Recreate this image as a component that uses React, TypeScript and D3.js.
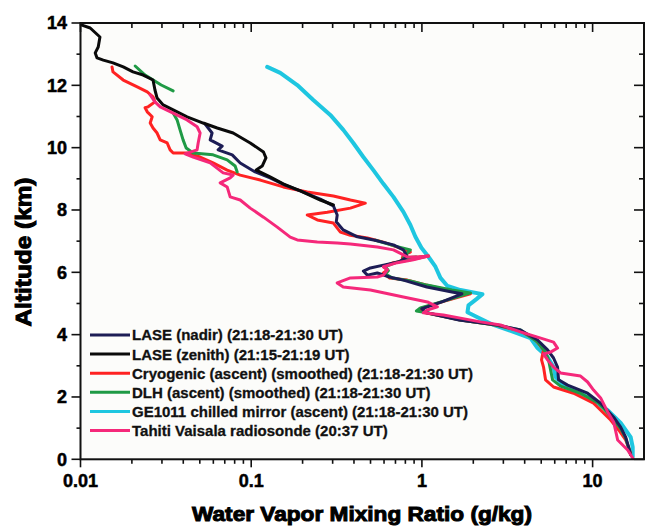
import React from "react";
import * as d3 from "d3";

// Water vapor profiles: [mixing ratio (g/kg), altitude (km)]
const laseZenith: [number, number][] = [
  [0.0101, 13.94], [0.0114, 13.84], [0.013, 13.55], [0.0127, 13.23], [0.0122, 13.04],
  [0.0125, 12.88], [0.0136, 12.81], [0.0155, 12.72], [0.0178, 12.59], [0.0203, 12.43],
  [0.0233, 12.33], [0.0266, 12.17], [0.0273, 11.85], [0.0281, 11.59], [0.0305, 11.37],
  [0.0349, 11.21], [0.0421, 10.99], [0.0523, 10.79], [0.0632, 10.63], [0.0784, 10.47],
  [0.0987, 10.15], [0.118, 9.86], [0.122, 9.67], [0.116, 9.41], [0.107, 9.28],
  [0.129, 9.06], [0.154, 8.84], [0.194, 8.61], [0.254, 8.32], [0.303, 8.16],
];

const laseNadir: [number, number][] = [
  [0.0537, 10.76], [0.059, 10.47], [0.0575, 10.25], [0.0676, 10.05], [0.064, 9.93],
  [0.0774, 9.77], [0.0862, 9.51], [0.1055, 9.22], [0.129, 9.03], [0.158, 8.8],
  [0.194, 8.61], [0.254, 8.35], [0.303, 8.13], [0.319, 7.84], [0.315, 7.62],
  [0.346, 7.36], [0.419, 7.14], [0.548, 7.01], [0.681, 6.88], [0.779, 6.72],
  [0.822, 6.49], [0.728, 6.33], [0.595, 6.23], [0.499, 6.14], [0.454, 6.04],
  [0.479, 5.91], [0.548, 5.98], [0.645, 5.85], [0.779, 5.75], [1.069, 5.53],
  [1.499, 5.37], [1.716, 5.31], [1.309, 5.05], [0.999, 4.83], [1.069, 4.7],
  [1.648, 4.47], [2.772, 4.31], [3.781, 4.15], [4.757, 3.83], [5.445, 3.51],
  [5.905, 3.25], [6.232, 2.96], [6.317, 2.55], [7.134, 2.38], [9.346, 2.12],
  [11.14, 1.8], [13.28, 1.35], [14.6, 1.03], [15.62, 0.71], [16.26, 0.39], [16.71, 0.14],
];

const cryogenic: [number, number][] = [
  [0.0153, 12.59], [0.0155, 12.43], [0.0178, 12.17], [0.0215, 11.95], [0.0246, 11.79],
  [0.0266, 11.63], [0.0273, 11.47], [0.0249, 11.31], [0.0239, 11.28], [0.0246, 11.15],
  [0.0263, 10.99], [0.0256, 10.79], [0.0266, 10.63], [0.0281, 10.47], [0.0293, 10.25],
  [0.0322, 10.15], [0.0335, 9.93], [0.0349, 9.83], [0.0421, 9.83], [0.0502, 9.7],
  [0.0598, 9.51], [0.0723, 9.28], [0.0862, 9.12], [0.113, 8.96], [0.154, 8.74],
  [0.213, 8.58], [0.303, 8.45], [0.381, 8.32], [0.466, 8.22], [0.381, 8.06],
  [0.279, 7.93], [0.213, 7.84], [0.244, 7.68], [0.303, 7.58], [0.333, 7.29],
  [0.381, 7.19], [0.479, 7.1], [0.595, 6.97], [0.718, 6.81], [0.856, 6.65],
  [0.779, 6.56], [0.768, 6.46], [0.954, 6.49], [1.092, 6.52], [0.856, 6.4],
  [0.681, 6.31], [0.595, 6.18], [0.628, 6.08], [0.595, 5.98], [0.645, 5.82],
  [0.822, 5.75], [1.069, 5.59], [1.499, 5.4], [1.925, 5.31], [1.309, 5.05],
  [0.973, 4.83], [1.048, 4.7], [1.682, 4.47], [2.698, 4.31], [3.781, 4.12],
  [4.631, 3.83], [5.158, 3.51], [5.021, 3.19], [5.158, 2.96], [5.3, 2.55],
  [5.905, 2.32], [7.735, 2.12], [10.13, 1.8], [12.75, 1.26], [14.21, 0.94],
  [15.62, 0.62], [16.71, 0.2],
];

const dlhUpper: [number, number][] = [
  [0.0209, 12.62], [0.0239, 12.33], [0.0297, 12.01], [0.0349, 11.82],
];

const dlhMiddle: [number, number][] = [
  [0.0349, 11.11], [0.0368, 10.89], [0.0383, 10.57], [0.0399, 10.25], [0.0416, 9.99],
  [0.0457, 9.83], [0.0598, 9.77], [0.0723, 9.61], [0.0805, 9.41], [0.0828, 9.22],
];

const dlhLower: [number, number][] = [
  [0.534, 7.03], [0.699, 6.84], [0.856, 6.72], [0.8, 6.56], [0.779, 6.46],
  [0.929, 6.49], [0.699, 6.31], [0.611, 6.18], [0.636, 6.05], [0.611, 5.95],
  [0.671, 5.82], [0.856, 5.72], [1.069, 5.59], [1.499, 5.43], [1.925, 5.34],
  [1.373, 5.09], [0.98, 4.86], [0.929, 4.76], [1.069, 4.7], [1.682, 4.47],
  [2.698, 4.31], [3.781, 4.15], [4.757, 3.76], [5.3, 3.44], [5.52, 3.19],
  [5.672, 2.87], [5.829, 2.55], [6.49, 2.35], [8.5, 2.12], [10.85, 1.8],
  [13.1, 1.31], [14.6, 0.99], [15.62, 0.68], [16.26, 0.36], [16.71, 0.14],
];

const chilledMirror: [number, number][] = [
  [0.1241, 12.59], [0.148, 12.4], [0.1861, 12.01], [0.231, 11.53], [0.2906, 11.05],
  [0.3464, 10.57], [0.3964, 10.15], [0.4539, 9.7], [0.5195, 9.28], [0.5946, 8.84],
  [0.681, 8.42], [0.779, 7.94], [0.856, 7.52], [0.916, 7.14], [0.993, 6.79],
  [1.092, 6.5], [1.2, 6.18], [1.284, 5.82], [1.411, 5.56], [1.682, 5.43],
  [2.263, 5.3], [2.087, 5.14], [1.874, 4.94], [1.849, 4.72], [2.116, 4.56],
  [2.627, 4.31], [3.441, 4.09], [4.328, 3.89], [4.757, 3.57], [5.445, 3.28],
  [5.905, 2.96], [6.067, 2.64], [6.76, 2.38], [9.346, 2.0], [12.25, 1.58],
  [14.6, 1.17], [16.71, 0.71], [17.17, 0.39], [17.17, 0.07],
];

const tahitiSonde: [number, number][] = [
  [0.0256, 11.69], [0.0273, 11.47], [0.0293, 11.31], [0.0349, 11.11], [0.0421, 10.89],
  [0.0482, 10.67], [0.0502, 10.47], [0.0489, 10.15], [0.0482, 9.93], [0.041, 9.8],
  [0.0457, 9.7], [0.0575, 9.51], [0.0685, 9.19], [0.0784, 9.12], [0.0753, 9.03],
  [0.0658, 8.87], [0.0723, 8.74], [0.0753, 8.42], [0.0862, 8.32], [0.0987, 8.06],
  [0.118, 7.77], [0.1421, 7.45], [0.1693, 7.13], [0.1861, 7.04], [0.2438, 6.97],
  [0.319, 6.94], [0.381, 6.91], [0.548, 6.81], [0.681, 6.72], [0.779, 6.56],
  [0.822, 6.49], [0.954, 6.49], [1.092, 6.52], [0.891, 6.4], [0.718, 6.31],
  [0.595, 6.18], [0.628, 6.08], [0.595, 5.91], [0.548, 5.85], [0.381, 5.82],
  [0.319, 5.66], [0.346, 5.53], [0.499, 5.43], [0.779, 5.21], [1.077, 5.05],
  [1.232, 4.89], [1.077, 4.79], [1.02, 4.7], [1.336, 4.63], [1.682, 4.53],
  [2.203, 4.41], [2.886, 4.31], [3.781, 4.09], [4.757, 3.92], [5.905, 3.76],
  [6.232, 3.57], [5.672, 3.44], [5.158, 3.38], [5.445, 3.19], [5.905, 2.96],
  [6.49, 2.77], [8.5, 2.67], [9.346, 2.48], [10.13, 2.22], [11.14, 1.97],
  [12.25, 1.52], [13.28, 1.2], [14.02, 0.62], [16.04, 0.3], [17.17, 0.04],
];

const legendLabels = [
  "LASE (nadir) (21:18-21:30 UT)",
  "LASE (zenith) (21:15-21:19 UT)",
  "Cryogenic (ascent) (smoothed) (21:18-21:30 UT)",
  "DLH (ascent) (smoothed) (21:18-21:30 UT)",
  "GE1011 chilled mirror (ascent) (21:18-21:30 UT)",
  "Tahiti Vaisala radiosonde (20:37 UT)",
];
const legendColors = ["#1d1d55", "#0a0a0a", "#ff2222", "#1f9a45", "#1ec6e0", "#f5287a"];

const xTickValues = [0.01, 0.1, 1, 10];
const xTickLabels = ["0.01", "0.1", "1", "10"];
const yTickValues = [0, 2, 4, 6, 8, 10, 12, 14];

const W = 647;
const H = 529;
const left = 80.5;
const right = 644;
const top = 23;
const bottom = 459.3;
const FONT = "'Liberation Sans', Arial, Helvetica, sans-serif";

export default function App() {
  const x = d3.scaleLog().domain([0.01, 20]).range([left, right]);
  const y = d3.scaleLinear().domain([0, 14]).range([bottom, top]);
  const line = d3
    .line<[number, number]>()
    .x((d) => x(d[0]))
    .y((d) => y(d[1]));

  const minorX = x.ticks().filter((v) => v > 0.01 && v < 20 && !xTickValues.includes(v));
  const allY = d3.range(0, 15);

  const series: { data: [number, number][]; color: string; width: number }[] = [
    { data: chilledMirror, color: legendColors[4], width: 4 },
    { data: cryogenic, color: legendColors[2], width: 3 },
    { data: dlhUpper, color: legendColors[3], width: 3 },
    { data: dlhMiddle, color: legendColors[3], width: 3 },
    { data: dlhLower, color: legendColors[3], width: 3 },
    { data: laseNadir, color: legendColors[0], width: 3 },
    { data: laseZenith, color: legendColors[1], width: 3 },
    { data: tahitiSonde, color: legendColors[5], width: 3 },
  ];

  return (
    <svg
      width={W}
      height={H}
      style={{ position: "absolute", left: 0, top: 0, background: "#fff" }}
      fontFamily={FONT}
    >
      <rect x={left} y={top} width={right - left} height={bottom - top} fill="#fcfcfa" />

      <g fill="none" strokeLinejoin="round" strokeLinecap="round">
        {series.map((s, i) => (
          <path key={i} d={line(s.data) || ""} stroke={s.color} strokeWidth={s.width} />
        ))}
      </g>

      {/* frame */}
      <rect
        x={left}
        y={top}
        width={right - left}
        height={bottom - top}
        fill="none"
        stroke="#111"
        strokeWidth={2}
      />

      {/* x ticks: outward at bottom, inward at top */}
      <g stroke="#111" strokeWidth={1.6}>
        {xTickValues.map((v) => (
          <g key={"mx" + v}>
            <line x1={x(v)} x2={x(v)} y1={bottom} y2={bottom + 8} />
            <line x1={x(v)} x2={x(v)} y1={top} y2={top + 9} />
          </g>
        ))}
        {minorX.map((v) => (
          <g key={"nx" + v}>
            <line x1={x(v)} x2={x(v)} y1={bottom} y2={bottom + 4.5} />
            <line x1={x(v)} x2={x(v)} y1={top} y2={top + 5} />
          </g>
        ))}
        {allY.map((v) => {
          const major = v % 2 === 0;
          return (
            <g key={"y" + v}>
              <line x1={left} x2={left - (major ? 9 : 4)} y1={y(v)} y2={y(v)} />
              <line x1={right} x2={right - (major ? 10 : 5)} y1={y(v)} y2={y(v)} />
            </g>
          );
        })}
      </g>

      {/* tick labels */}
      <g fontWeight="bold" fontSize={18} fill="#000" stroke="#000" strokeWidth={0.5}>
        {xTickValues.map((v, i) => (
          <text key={"lx" + v} x={x(v)} y={487} textAnchor="middle">
            {xTickLabels[i]}
          </text>
        ))}
        {yTickValues.map((v) => (
          <text key={"ly" + v} x={67} y={y(v)} dy="0.36em" textAnchor="end">
            {v}
          </text>
        ))}
      </g>

      {/* axis titles */}
      <text
        x={362}
        y={521}
        textAnchor="middle"
        fontWeight="bold"
        fontSize={21}
        stroke="#000"
        strokeWidth={1}
        textLength={340}
        lengthAdjust="spacingAndGlyphs"
      >
        Water Vapor Mixing Ratio (g/kg)
      </text>
      <text
        transform="translate(31,252) rotate(-90)"
        textAnchor="middle"
        fontWeight="bold"
        fontSize={22}
        stroke="#000"
        strokeWidth={1}
        textLength={149}
        lengthAdjust="spacingAndGlyphs"
      >
        Altitude (km)
      </text>

      {/* legend */}
      <g>
        {legendLabels.map((label, i) => {
          const ly = 335 + i * 19.1;
          return (
            <g key={label}>
              <line x1={90} x2={130} y1={ly} y2={ly} stroke={legendColors[i]} strokeWidth={3} />
              <text
                x={132}
                y={ly}
                dy="0.36em"
                fontSize={15}
                fontWeight="bold"
                fill="#111"
                stroke="#111"
                strokeWidth={0.3}
              >
                {label}
              </text>
            </g>
          );
        })}
      </g>
    </svg>
  );
}
